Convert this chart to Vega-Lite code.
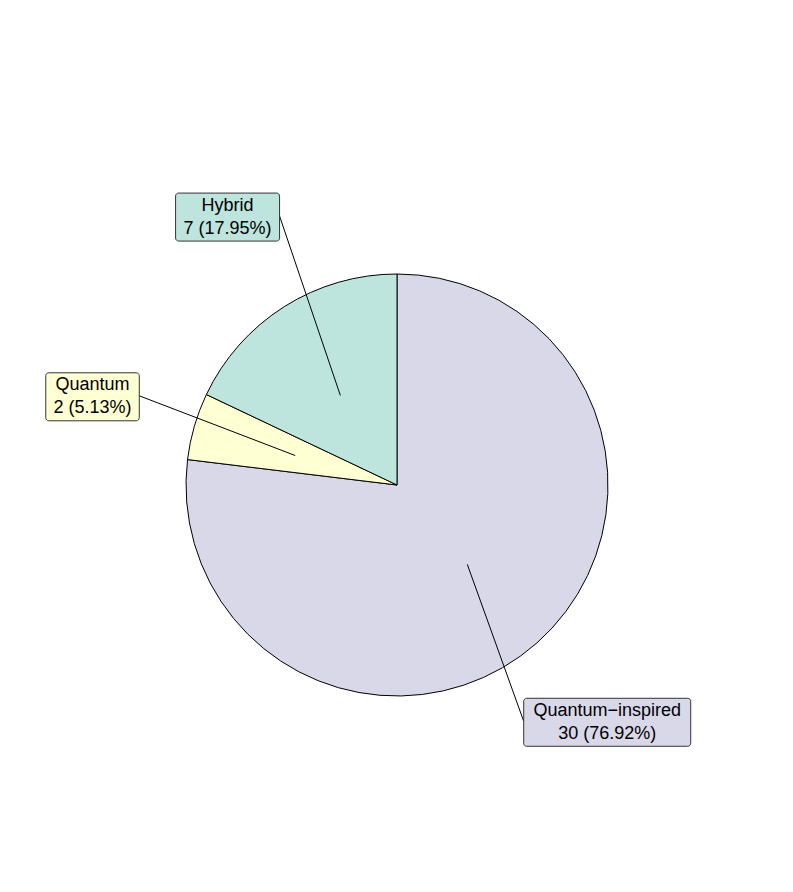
{
  "$schema": "https://vega.github.io/schema/vega-lite/v6.json",
  "width": 793,
  "height": 892,
  "autosize": {"type": "none"},
  "padding": 0,
  "background": "white",
  "config": {"view": {"stroke": null}},
  "data": {"values": [
    {"category": "Quantum\u2212inspired", "count": 30, "ord": 1},
    {"category": "Quantum", "count": 2, "ord": 2},
    {"category": "Hybrid", "count": 7, "ord": 3}
  ]},
  "transform": [
    {"joinaggregate": [{"op": "sum", "field": "count", "as": "total"}]},
    {"window": [{"op": "sum", "field": "count", "as": "cum"}], "sort": [{"field": "ord"}], "frame": [null, 0]},
    {"calculate": "(datum.cum - datum.count / 2) / datum.total * 2 * PI", "as": "mid"},
    {"calculate": "format(datum.count / datum.total * 100, '.2f')", "as": "pct"},
    {"calculate": "[datum.category, datum.count + ' (' + datum.pct + '%)']", "as": "lbl"},
    {"calculate": "max(length(datum.category), length(datum.count + ' (' + datum.pct + '%)'))", "as": "nchar"},
    {"calculate": "106 * sin(datum.mid)", "as": "x1"},
    {"calculate": "106 * cos(datum.mid)", "as": "y1"},
    {"calculate": "317 * sin(datum.mid)", "as": "lx"},
    {"calculate": "317 * cos(datum.mid)", "as": "ly"},
    {"calculate": "datum.lx - (10.5 * datum.nchar - 1) / 2", "as": "bx1"},
    {"calculate": "datum.lx + (10.5 * datum.nchar - 1) / 2", "as": "bx2"},
    {"calculate": "datum.ly - 24", "as": "by1"},
    {"calculate": "datum.ly + 24", "as": "by2"},
    {"calculate": "datum.lx > 0 ? datum.bx1 : datum.bx2", "as": "ex"},
    {"calculate": "datum.ly + 1", "as": "ey"}
  ],
  "layer": [
    {
      "mark": {"type": "arc", "stroke": "black", "strokeWidth": 1, "radius": 211},
      "encoding": {
        "x": {"datum": 0, "type": "quantitative", "scale": {"domain": [-397, 396], "nice": false, "zero": false}, "axis": null},
        "y": {"datum": 0, "type": "quantitative", "scale": {"domain": [-407, 485], "nice": false, "zero": false}, "axis": null},
        "theta": {"field": "count", "type": "quantitative", "stack": true},
        "order": {"field": "ord", "type": "quantitative"},
        "color": {"field": "category", "type": "nominal", "legend": null,
          "scale": {"domain": ["Quantum\u2212inspired", "Quantum", "Hybrid"], "range": ["#D9D8E9", "#FFFFD4", "#BDE5DE"]}}
      }
    },
    {
      "mark": {"type": "rule", "color": "black", "strokeWidth": 1},
      "encoding": {
        "x": {"field": "x1", "type": "quantitative", "scale": {"domain": [-397, 396], "nice": false, "zero": false}, "axis": null},
        "y": {"field": "y1", "type": "quantitative", "scale": {"domain": [-407, 485], "nice": false, "zero": false}, "axis": null},
        "x2": {"field": "ex"},
        "y2": {"field": "ey"}
      }
    },
    {
      "mark": {"type": "rect", "stroke": "#333333", "strokeWidth": 1, "cornerRadius": 3},
      "encoding": {
        "x": {"field": "bx1", "type": "quantitative", "scale": {"domain": [-397, 396], "nice": false, "zero": false}, "axis": null},
        "x2": {"field": "bx2"},
        "y": {"field": "by1", "type": "quantitative", "scale": {"domain": [-407, 485], "nice": false, "zero": false}, "axis": null},
        "y2": {"field": "by2"},
        "color": {"field": "category", "type": "nominal", "legend": null}
      }
    },
    {
      "mark": {"type": "text", "font": "Liberation Sans", "fontSize": 18, "color": "black", "align": "center", "baseline": "middle", "lineHeight": 23, "dy": -11.5},
      "encoding": {
        "x": {"field": "lx", "type": "quantitative", "scale": {"domain": [-397, 396], "nice": false, "zero": false}, "axis": null},
        "y": {"field": "ly", "type": "quantitative", "scale": {"domain": [-407, 485], "nice": false, "zero": false}, "axis": null},
        "text": {"field": "lbl"}
      }
    }
  ]
}
